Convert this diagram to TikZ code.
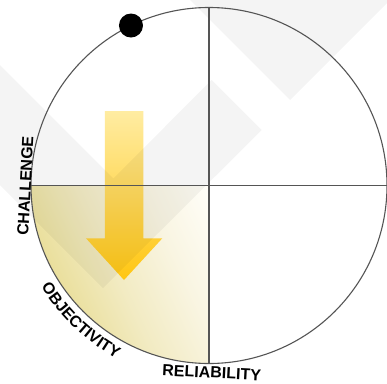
\documentclass[tikz,border=0pt]{standalone}
\usepackage{fontspec}
\setmainfont{Liberation Sans}
\usetikzlibrary{decorations.text}
\definecolor{linegray}{RGB}{85,85,85}
\definecolor{qyel}{RGB}{234,223,156}
\definecolor{qmid}{RGB}{242,235,195}
\definecolor{qlight}{RGB}{249,245,226}
\definecolor{qwhite}{RGB}{255,254,249}
\definecolor{arrtop}{RGB}{255,236,162}
\definecolor{arrbot}{RGB}{255,198,18}
\pgfdeclareverticalshading{quadshade}{100bp}{color(0bp)=(qyel); color(25bp)=(qyel); color(41bp)=(qmid); color(58bp)=(qlight); color(75bp)=(qwhite); color(100bp)=(qwhite)}
\tikzset{
  axisline/.style={draw=linegray, line width=1.1pt},
  ringline/.style={draw=linegray, line width=1.1pt},
  watermark/.style={fill=black, opacity=0.045},
  lbl/.style={font=\fontsize{16}{18}\selectfont\bfseries, inner sep=0pt, text=black},
  knob/.style={circle, fill=black, minimum size=24pt, inner sep=0pt},
  bigarrow/.style={top color=arrtop, bottom color=arrbot}
}
\begin{document}
\begin{tikzpicture}[x=1pt,y=1pt]
\useasboundingbox (-209,-197.5) rectangle (178,185.5);
\fill[white] (-209,-197.5) rectangle (178,185.5);
% shaded lower-left quadrant
\begin{scope}
  \clip (0,0) -- (-178,0) arc[start angle=180,end angle=270,radius=178] -- cycle;
  \begin{scope}[transform canvas={rotate=-65}]
    \shade[shading=quadshade] (-80,-178) rectangle (165,0);
  \end{scope}
\end{scope}
% arrow
\shade[bigarrow] (-104,74.5) -- (-65.7,74.5) -- (-65.7,-52.8) -- (-46.7,-52.8) -- (-85,-94.5) -- (-123,-52.8) -- (-104,-52.8) -- cycle;
% watermark shapes
\fill[watermark] (-209,120.5) -- (-95.6,7.1) -- (2.7,105.5) -- (52.7,55.5) -- (-106,-102.5) -- (-209,0.5) -- cycle;
\fill[watermark] (-19,185.5) -- (181,185.5) -- (81,85.5) -- cycle;
% axes and ring
\coordinate (L) at (-178,0);
\coordinate (R) at (178,0);
\coordinate (T) at (0,178);
\coordinate (B) at (0,-178);
\draw[axisline] (L) -- (R);
\draw[axisline] (T) -- (B);
\draw[ringline] (0,0) circle[radius=178];
% dot
\node[knob] (dot) at (116:178) {};
% labels
\node[lbl, rotate=87] (challenge) at (-183.7,-0.4) {CHALLENGE};
\node[lbl, rotate=-3] (reliability) at (2.7,-187) {RELIABILITY};
\path[decorate, decoration={text along path, text={|\fontsize{16}{18}\selectfont\bfseries|OBJECTIVITY}, text align=center}]
  (205:196) arc[start angle=205, end angle=248, radius=196];
\end{tikzpicture}
\end{document}
